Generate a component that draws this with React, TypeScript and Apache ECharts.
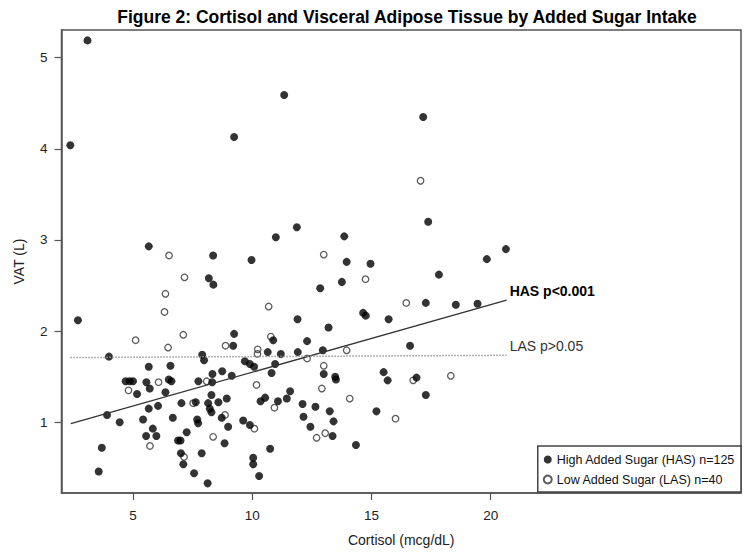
import React, { useEffect, useRef } from "react";
import * as echarts from "echarts";

const chartTitle = "Figure 2: Cortisol and Visceral Adipose Tissue by Added Sugar Intake";
const xAxisName = "Cortisol (mcg/dL)";
const yAxisName = "VAT (L)";
const xTicks = [5, 10, 15, 20];
const yTicks = [1, 2, 3, 4, 5];
const hasName = "High Added Sugar (HAS) n=125";
const lasName = "Low Added Sugar (LAS) n=40";
const hasLabel = "HAS p<0.001";
const lasLabel = "LAS p>0.05";

// High Added Sugar (filled circles): [cortisol, VAT]
const hasPoints: [number, number][] = [
  [3.09, 5.19], [2.37, 4.04], [9.24, 4.13], [11.34, 4.59], [5.66, 2.93], [10.99, 3.03],
  [11.87, 3.14], [17.17, 4.35], [17.38, 3.2], [13.86, 3.04], [9.97, 2.78], [13.96, 2.76],
  [14.96, 2.74], [17.83, 2.62], [19.84, 2.79], [20.64, 2.9], [8.36, 2.83], [8.18, 2.58],
  [8.37, 2.51], [2.69, 2.12], [13.76, 2.54], [12.85, 2.47], [14.65, 2.2], [14.76, 2.17],
  [15.72, 2.13], [11.9, 2.13], [13.2, 2.04], [9.24, 1.97], [10.88, 1.9], [12.3, 1.89],
  [9.2, 1.84], [17.28, 2.31], [18.54, 2.29], [19.45, 2.3], [16.62, 1.84], [3.99, 1.72],
  [7.9, 1.74], [7.98, 1.68], [5.66, 1.61], [6.57, 1.62], [8.33, 1.53], [8.74, 1.56],
  [4.69, 1.45], [4.86, 1.45], [5.0, 1.45], [5.56, 1.44], [6.5, 1.47], [6.61, 1.45],
  [7.74, 1.45], [8.32, 1.44], [5.17, 1.31], [5.7, 1.37], [6.36, 1.33], [8.29, 1.3],
  [7.03, 1.21], [7.63, 1.22], [8.15, 1.21], [8.22, 1.15], [8.29, 1.11], [8.58, 1.22],
  [8.93, 1.26], [5.66, 1.15], [6.05, 1.18], [3.91, 1.08], [4.44, 1.0], [5.42, 1.03],
  [6.67, 1.05], [7.69, 1.03], [7.73, 0.99], [8.72, 1.05], [5.83, 0.93], [5.55, 0.85],
  [5.98, 0.85], [7.25, 0.89], [6.89, 0.8], [6.99, 0.8], [8.84, 0.77], [3.69, 0.72],
  [7.01, 0.66], [7.11, 0.54], [7.88, 0.66], [3.56, 0.46], [7.56, 0.44], [8.13, 0.33],
  [10.65, 1.77], [11.2, 1.75], [11.91, 1.77], [12.96, 1.79], [9.69, 1.67], [9.9, 1.64],
  [10.08, 1.61], [10.96, 1.64], [10.81, 1.54], [9.14, 1.51], [13.0, 1.53], [13.48, 1.5],
  [13.51, 1.47], [15.51, 1.55], [15.68, 1.46], [11.59, 1.34], [11.45, 1.26], [11.08, 1.23],
  [10.54, 1.27], [10.35, 1.23], [12.11, 1.2], [12.65, 1.17], [13.25, 1.12], [15.21, 1.12],
  [12.15, 1.06], [13.41, 1.01], [9.62, 1.02], [9.9, 0.97], [8.99, 0.95], [12.44, 0.95],
  [13.37, 0.85], [14.35, 0.75], [10.75, 0.71], [10.04, 0.61], [10.04, 0.54], [10.29, 0.41],
  [16.89, 1.49], [17.28, 1.3],
];

// Low Added Sugar (open circles): [cortisol, VAT]
const lasPoints: [number, number][] = [
  [17.06, 3.65], [13.0, 2.84], [6.51, 2.83], [7.16, 2.59], [6.36, 2.41], [6.32, 2.21],
  [5.11, 1.9], [7.11, 1.96], [6.47, 1.82], [8.88, 1.84], [14.75, 2.57], [10.69, 2.27],
  [10.78, 1.94], [16.46, 2.31], [6.07, 1.44], [8.09, 1.45], [4.81, 1.35], [7.52, 1.21],
  [8.86, 1.08], [8.36, 0.84], [5.71, 0.74], [7.14, 0.62], [10.23, 1.8], [10.22, 1.75],
  [13.96, 1.79], [12.3, 1.7], [13.0, 1.62], [10.18, 1.41], [12.92, 1.37], [14.09, 1.26],
  [10.93, 1.16], [16.01, 1.04], [10.09, 0.93], [12.7, 0.83], [13.06, 0.88], [16.75, 1.46],
  [18.33, 1.51],
];

// Regression line end points
const hasLine: [number, number][] = [[2.39, 0.985], [20.67, 2.34]];
const lasLine: [number, number][] = [[2.37, 1.71], [20.67, 1.735]];

const FONT = "'Liberation Sans', Arial, sans-serif";

export default function App() {
  const ref = useRef<HTMLDivElement>(null);

  useEffect(() => {
    if (!ref.current) return;
    const chart = echarts.init(ref.current, undefined, { renderer: "svg" });
    chart.setOption({
      animation: false,
      backgroundColor: "#ffffff",
      textStyle: { fontFamily: FONT },
      title: {
        text: chartTitle,
        left: 402,
        top: 3,
        textAlign: "center",
        textStyle: { fontFamily: FONT, fontSize: 17.5, fontWeight: "bold", color: "#000" },
      },
      grid: {
        left: 61.5,
        right: 9,
        top: 30,
        bottom: 62,
        show: true,
        borderColor: "#555",
        borderWidth: 1.5,
        backgroundColor: "transparent",
      },
      legend: {
        data: [hasName, lasName],
        orient: "vertical",
        right: 9,
        bottom: 63,
        padding: [7, 6, 6, 5],
        itemWidth: 8,
        itemHeight: 8,
        itemGap: 7,
        borderColor: "#444",
        borderWidth: 1.5,
        backgroundColor: "#fff",
        textStyle: { fontFamily: FONT, fontSize: 12.5, color: "#111" },
      },
      xAxis: {
        type: "value",
        min: 2,
        max: 30.5,
        name: xAxisName,
        nameLocation: "middle",
        nameGap: 40,
        nameTextStyle: { fontFamily: FONT, fontSize: 14, color: "#222" },
        splitLine: { show: false },
        axisLine: { show: true, onZero: false, lineStyle: { color: "#555", width: 1.5 } },
        axisTick: { show: true, length: 7, customValues: xTicks, lineStyle: { color: "#555", width: 1.2 } },
        axisLabel: { customValues: xTicks, margin: 15, fontFamily: FONT, fontSize: 13.5, color: "#222" },
      },
      yAxis: {
        type: "value",
        min: 0.224,
        max: 5.304,
        name: yAxisName,
        nameLocation: "middle",
        nameGap: 36,
        nameRotate: 90,
        nameTextStyle: { fontFamily: FONT, fontSize: 14, color: "#222" },
        splitLine: { show: false },
        axisLine: { show: true, onZero: false, lineStyle: { color: "#555", width: 1.5 } },
        axisTick: { show: true, length: 7, customValues: yTicks, lineStyle: { color: "#555", width: 1.2 } },
        axisLabel: { customValues: yTicks, margin: 14, fontFamily: FONT, fontSize: 13.5, color: "#222" },
      },
      series: [
        {
          name: lasName,
          type: "scatter",
          data: lasPoints,
          symbol: "circle",
          symbolSize: 6.5,
          itemStyle: { color: "rgba(255,255,255,0)", borderColor: "#333", borderWidth: 1.3 },
          z: 2,
        },
        {
          name: hasName,
          type: "scatter",
          data: hasPoints,
          symbol: "circle",
          symbolSize: 8,
          itemStyle: { color: "#000" },
          z: 3,
        },
        {
          name: "HAS fit",
          type: "line",
          data: hasLine,
          showSymbol: false,
          symbol: "none",
          lineStyle: { color: "#333", width: 1.3 },
          z: 4,
          endLabel: {
            show: true,
            formatter: hasLabel,
            distance: 3,
            offset: [0, -9],
            fontFamily: FONT,
            fontSize: 14,
            fontWeight: "bold",
            color: "#000",
          },
        },
        {
          name: "LAS fit",
          type: "line",
          data: lasLine,
          showSymbol: false,
          symbol: "none",
          lineStyle: { color: "#999", width: 1.5, type: "dotted" },
          z: 4,
          endLabel: {
            show: true,
            formatter: lasLabel,
            distance: 3,
            offset: [0, -9],
            fontFamily: FONT,
            fontSize: 14,
            color: "#333",
          },
        },
      ],
    });
    return () => chart.dispose();
  }, []);

  return (
    <div
      ref={ref}
      style={{ position: "fixed", left: 0, top: 0, width: 750, height: 555, background: "#fff" }}
    />
  );
}
